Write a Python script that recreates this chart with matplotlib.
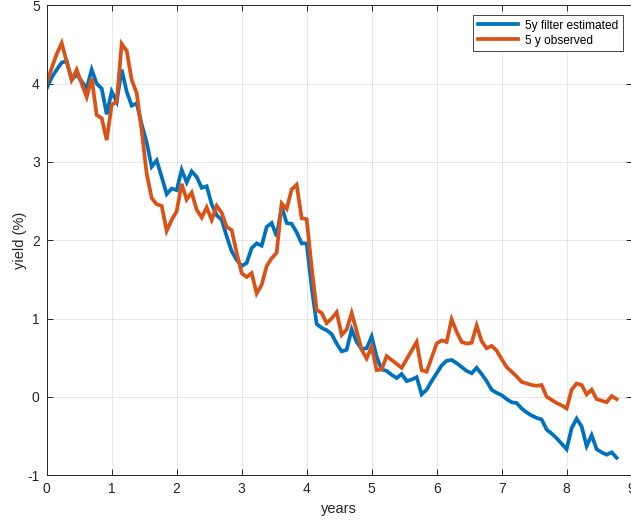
import numpy as np
import matplotlib
matplotlib.use("Agg")
import matplotlib.pyplot as plt

plt.rcParams['font.family'] = ['Liberation Sans', 'DejaVu Sans']
plt.rcParams['axes.unicode_minus'] = False

# sampling: one point every 4 weeks (1/13 year)
steps_per_year = 13

observed_5y = [
    4.01, 4.20, 4.38, 4.52, 4.28, 4.05, 4.18, 4.00, 3.83, 4.07,
    3.60, 3.56, 3.28, 3.73, 3.77, 4.51, 4.42, 4.05, 3.88, 3.40,
    2.85, 2.54, 2.46, 2.44, 2.12, 2.26, 2.37, 2.72, 2.52, 2.61,
    2.39, 2.29, 2.42, 2.26, 2.44, 2.35, 2.17, 2.13, 1.84, 1.58,
    1.53, 1.58, 1.32, 1.43, 1.67, 1.77, 1.84, 2.47, 2.40, 2.65,
    2.71, 2.28, 2.27, 1.65, 1.11, 1.07, 0.94, 1.00, 1.08, 0.79,
    0.86, 1.07, 0.84, 0.60, 0.49, 0.64, 0.34, 0.35, 0.52, 0.47,
    0.42, 0.37, 0.48, 0.59, 0.70, 0.34, 0.32, 0.50, 0.68, 0.72,
    0.70, 0.99, 0.83, 0.70, 0.68, 0.69, 0.91, 0.71, 0.62, 0.65,
    0.59, 0.48, 0.38, 0.32, 0.26, 0.19, 0.17, 0.15, 0.14, 0.15,
    0.00, -0.04, -0.08, -0.11, -0.15, 0.09, 0.17, 0.15, 0.03, 0.09,
    -0.03, -0.05, -0.07, 0.01, -0.03,
]

estimated_5y = [
    3.94, 4.08, 4.18, 4.27, 4.29, 4.05, 4.12, 4.03, 3.94, 4.18,
    4.00, 3.94, 3.61, 3.90, 3.77, 4.18, 3.90, 3.72, 3.75, 3.48,
    3.25, 2.94, 3.02, 2.81, 2.59, 2.66, 2.64, 2.90, 2.74, 2.88,
    2.81, 2.67, 2.69, 2.46, 2.32, 2.26, 2.05, 1.86, 1.75, 1.67,
    1.71, 1.90, 1.96, 1.93, 2.17, 2.22, 2.05, 2.43, 2.22, 2.21,
    2.10, 1.96, 1.96, 1.40, 0.93, 0.88, 0.85, 0.80, 0.68, 0.58,
    0.60, 0.86, 0.70, 0.61, 0.62, 0.77, 0.51, 0.35, 0.33, 0.28,
    0.24, 0.29, 0.20, 0.22, 0.25, 0.03, 0.09, 0.20, 0.30, 0.40,
    0.46, 0.47, 0.43, 0.38, 0.33, 0.30, 0.37, 0.29, 0.20, 0.09,
    0.05, 0.02, -0.03, -0.07, -0.08, -0.15, -0.20, -0.24, -0.27, -0.29,
    -0.42, -0.47, -0.53, -0.60, -0.67, -0.40, -0.28, -0.38, -0.63, -0.49,
    -0.67, -0.71, -0.74, -0.71, -0.78,
]

years = np.arange(len(observed_5y)) / steps_per_year

series_labels = ["5y filter estimated", "5 y observed"]
x_ticks = [0, 1, 2, 3, 4, 5, 6, 7, 8, 9]
y_ticks = [-1, 0, 1, 2, 3, 4, 5]

blue = "#0072BD"
orange = "#D95319"
axis_col = "#262626"

fig = plt.figure(figsize=(6.31, 5.22), dpi=100)
ax = fig.add_axes([0.074, 0.090, 0.927, 0.8995])

ax.plot(years, estimated_5y, color=blue, lw=2.7, label=series_labels[0],
        solid_joinstyle='miter')
ax.plot(years, observed_5y, color=orange, lw=2.7, label=series_labels[1],
        solid_joinstyle='miter')

ax.set_xlim(0, 9)
ax.set_ylim(-1, 5)
ax.set_xticks(x_ticks)
ax.set_yticks(y_ticks)
ax.set_xticklabels([str(t) for t in x_ticks])
ax.set_yticklabels([str(t) for t in y_ticks])

ax.grid(True, color="#262626", alpha=0.12, lw=0.6)
ax.set_axisbelow(True)

for s in ax.spines.values():
    s.set_color(axis_col)
    s.set_linewidth(0.7)

ax.tick_params(axis='both', direction='in', length=4, width=0.7,
               colors=axis_col, labelsize=10, top=True, right=True, pad=5)

ax.set_xlabel("years", fontsize=10.5, color=axis_col, labelpad=4)
ax.set_ylabel("yield (%)", fontsize=10.5, color=axis_col, labelpad=0)

leg = ax.legend(loc='upper right', bbox_to_anchor=(0.985, 0.98),
                fontsize=8.6, fancybox=False, framealpha=1,
                edgecolor=axis_col, handlelength=3.3, borderpad=0.4,
                labelspacing=0.25, handletextpad=0.6, borderaxespad=0)
leg.get_frame().set_linewidth(0.6)

fig.savefig("out.png", dpi=100)
